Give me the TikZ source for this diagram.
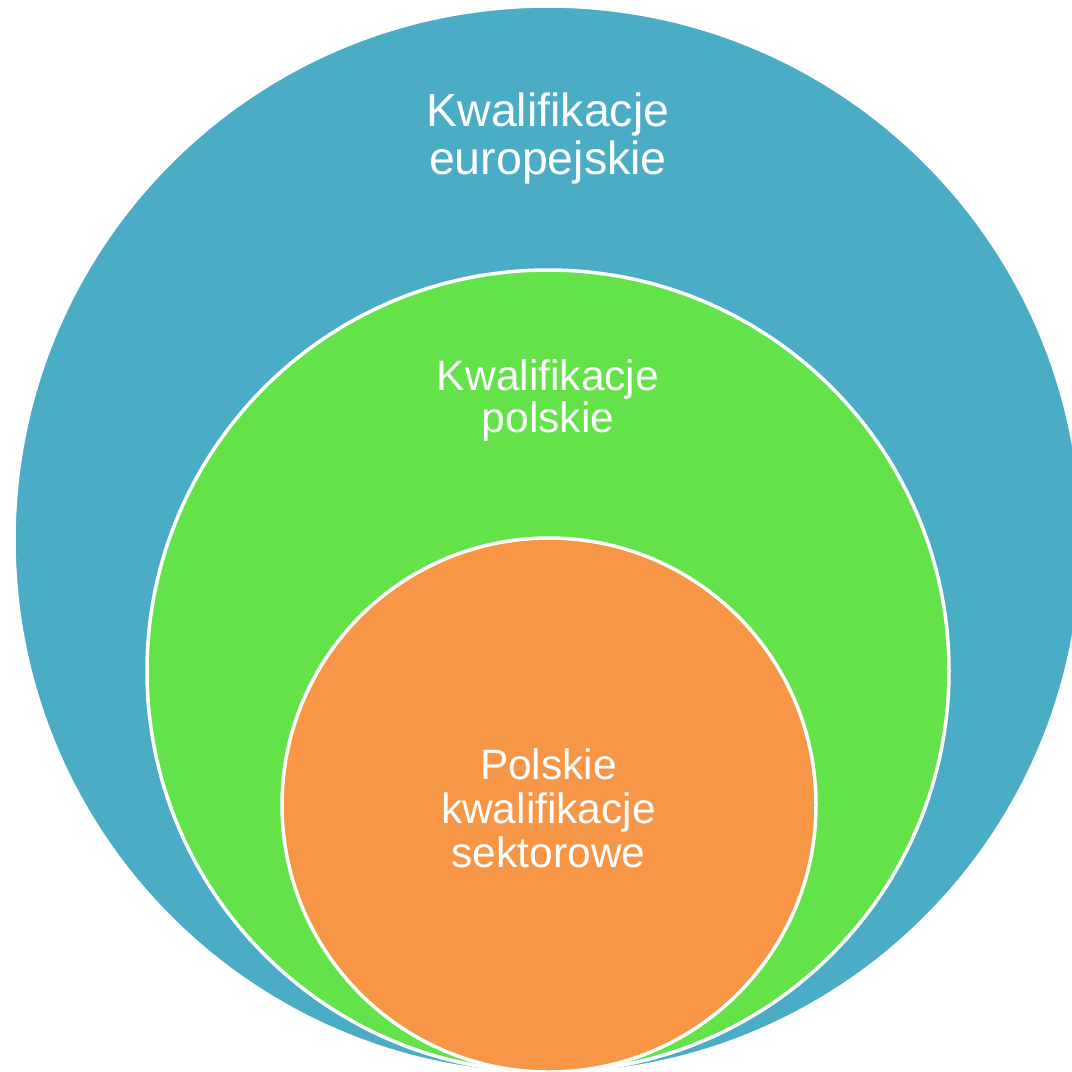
\documentclass[tikz,border=0pt]{standalone}
\usepackage{fontspec}
\setmainfont{Liberation Sans}
\definecolor{cblue}{HTML}{4BACC6}
\definecolor{cgreen}{HTML}{63E24A}
\definecolor{corange}{HTML}{F79646}
\tikzset{
  ring/.style={circle, draw=white, line width=3.5pt, inner sep=0pt, outer sep=0pt},
  lbl/.style={text=white, align=center, inner sep=0pt},
}
\begin{document}
\begin{tikzpicture}[x=1pt,y=-1pt]
\useasboundingbox (0,0) rectangle (1072,1072);
\clip (0,0) rectangle (1072,1072);
\node[ring, fill=cblue, minimum size=1068pt] (eu) at (548,540) {};
\node[ring, fill=cgreen, minimum size=802pt] (pl) at (548,671) {};
\node[ring, fill=corange, minimum size=534pt] (sek) at (549,805) {};
\node[lbl, font=\fontsize{46.5}{48.5}\selectfont] (teu) at (548,138.5) {Kwalifikacje\\europejskie};
\node[lbl, font=\fontsize{42.5}{42.5}\selectfont] (tpl) at (548,400.5) {Kwalifikacje\\polskie};
\node[lbl, font=\fontsize{42.5}{44}\selectfont] (tsek) at (548.5,808) {Polskie\\kwalifikacje\\sektorowe};
\end{tikzpicture}
\end{document}
